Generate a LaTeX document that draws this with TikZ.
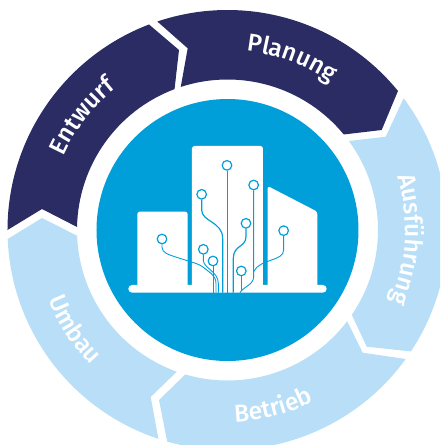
\documentclass[tikz,border=0pt]{standalone}
\usepackage{fontspec}
\setmainfont{Fira Sans Medium}
\usetikzlibrary{decorations.text}
\definecolor{darkseg}{HTML}{2A2C63}
\definecolor{lightseg}{HTML}{B8DFF7}
\definecolor{midblue}{HTML}{009FD9}
\newcommand{\ringlabel}[5]{%
  \path[decorate,decoration={text along path,text align=center,
    text={|\fontsize{#5pt}{#5pt}\selectfont\color{#4}|#1}}]
    (#2:#3pt) arc[start angle=#2,delta angle=\arcdelta,radius=#3pt];}
\tikzset{
  pad/.style={circle,draw=midblue,fill=white,line width=1.2pt,inner sep=0pt,minimum size=9.6pt},
  trace/.style={draw=midblue,line width=0.9pt},
  building/.style={fill=white,rounded corners=2.5pt}
}
\begin{document}
\begin{tikzpicture}[x=1pt,y=1pt]
\clip (-227.5,-215) rectangle (212.5,230);
\def\Ro{220pt}\def\Ri{150.5pt}
% segments
\fill[darkseg] (180:\Ro) arc[start angle=180,end angle=110.9,radius=\Ro] -- (-48.5,180)
  -- (110.6:\Ri) arc[start angle=110.6,end angle=178.85,radius=\Ri] -- (-185.5,21) -- cycle;
\fill[darkseg] (108.6:\Ro) arc[start angle=108.6,end angle=39.2,radius=\Ro] -- (154.2,100)
  -- (39.4:\Ri) arc[start angle=39.4,end angle=108.1,radius=\Ri] -- (-39.8,181.7) -- cycle;
\fill[lightseg] (36.8:\Ro) arc[start angle=36.8,end angle=-33.5,radius=\Ro] -- (139.2,-116.7)
  -- (-34.3:\Ri) arc[start angle=-34.3,end angle=36.25,radius=\Ri] -- (158.2,93.3) -- cycle;
\fill[lightseg] (-35.9:\Ro) arc[start angle=-35.9,end angle=-105.9,radius=\Ro] -- (-68.5,-170)
  -- (-106.3:\Ri) arc[start angle=-106.3,end angle=-37.3,radius=\Ri] -- (135.2,-122.7) -- cycle;
\fill[lightseg] (182.35:\Ro) arc[start angle=182.35,end angle=251.7,radius=\Ro] -- (-76.8,-167)
  -- (250.3:\Ri) arc[start angle=250.3,end angle=182.2,radius=\Ri] -- (-185.5,12) -- cycle;
% centre disc
\fill[midblue] (0,0) circle[radius=131pt];
% labels
\def\arcdelta{-80}
\ringlabel{Entwurf}{182}{180}{white}{24.5}
\ringlabel{Planung}{109.5}{180}{white}{24.5}
\ringlabel{Ausführung}{37}{178}{white}{24.5}
\def\arcdelta{80}
\ringlabel{Betrieb}{-115.5}{192}{white}{24.5}
\ringlabel{Umbau}{173}{192}{white}{24.5}
% icon: drawing units are 1/3 pt
\begin{scope}[shift={(-117.5pt,100pt)},x=0.3333pt,y=-0.3333pt]
  \fill[building] (82,480) -- (82,245) -- (233,245) -- (233,480) -- cycle;
  \fill[building] (246,480) -- (246,48) -- (459,48) -- (459,480) -- cycle;
  \fill[building] (473,480) -- (473,168) -- (622,245) -- (622,480) -- cycle;
  \fill[white,rounded corners=3.8pt] (55,465) rectangle (650,488);
  \node[pad] (a) at (156,327) {};
  \node[pad] (b) at (280,358) {};
  \node[pad] (c) at (309,393) {};
  \node[pad] (d) at (275,193) {};
  \node[pad] (e) at (351,106) {};
  \node[pad] (f) at (431,165) {};
  \node[pad] (g) at (408,280) {};
  \node[pad] (h) at (394,423) {};
  \node[pad] (i) at (521,302) {};
  \coordinate (ae) at (318,488);
  \coordinate (be) at (325,488);
  \coordinate (ce) at (309,488);
  \coordinate (de) at (338,488);
  \coordinate (ee) at (351,488);
  \coordinate (fe) at (390,488);
  \coordinate (ge) at (370,488);
  \coordinate (he) at (394,482);
  \coordinate (ij) at (431,425);
  \draw[trace] (a.south) -- (156,352) .. controls (158,368) and (170,372) .. (200,382) .. controls (240,395) and (265,400) .. (280,412) .. controls (295,425) and (318,435) .. (318,460) -- (ae);
  \draw[trace] (b.south) -- (280,392) .. controls (282,415) and (325,425) .. (325,460) -- (be);
  \draw[trace] (c.south) -- (ce);
  \draw[trace,line width=1.2pt] (d.south) -- (275,240) .. controls (275,275) and (338,275) .. (338,325) -- (de);
  \draw[trace] (e.south) -- (ee);
  \draw[trace] (f.south) -- (431,440) .. controls (431,465) and (400,470) .. (fe);
  \draw[trace,line width=1.2pt] (g.south) -- (408,320) .. controls (408,352) and (370,345) .. (370,385) -- (ge);
  \draw[trace] (h.south) -- (he);
  \draw[trace] (i.south) -- (521,360) .. controls (521,395) and (450,385) .. (ij);
\end{scope}
\end{tikzpicture}
\end{document}
